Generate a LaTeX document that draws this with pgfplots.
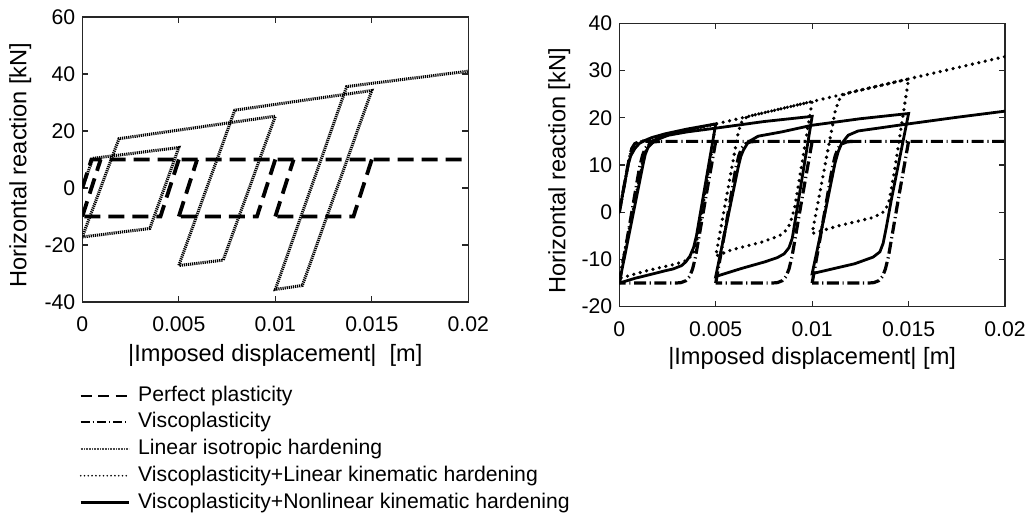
\documentclass[border=0pt]{standalone}
\usepackage{fontspec}
\setmainfont{Liberation Sans}
\usepackage{pgfplots}
\pgfplotsset{compat=1.18}
\pgfplotsset{
  myaxis/.style={
    scale only axis,
    axis line style={black!85, line width=0.6pt},
    every tick/.style={black!85, line width=0.6pt},
    major tick length=3pt,
    tick align=inside,
    xmin=0, xmax=0.02,
    xtick={0,0.005,0.01,0.015,0.02},
    xticklabels={0,0.005,0.01,0.015,0.02},
    scaled x ticks=false, scaled y ticks=false,
    /pgf/number format/assume math mode=true,
    tick label style={font=\fontsize{10.6}{12}\selectfont, black},
    xticklabel style={yshift=-4pt},
    label style={font=\fontsize{11.8}{14}\selectfont},
    xlabel style={at={(axis description cs:0.5,0)}, anchor=base, yshift=-30pt},
  },
  pp/.style={black, line width=1.9pt, dash pattern=on 8pt off 4pt, forget plot},
  iso/.style={black, line width=1.5pt, dash pattern=on 0.6pt off 0.45pt, forget plot},
  vp/.style={black, line width=1.6pt, dash pattern=on 6pt off 1.8pt on 0.6pt off 1.8pt, forget plot},
  lk/.style={black, line width=1.8pt, dash pattern=on 0pt off 3.3pt, line cap=round},
  nk/.style={black, line width=1.4pt},
}
\begin{document}
\begin{tikzpicture}
\useasboundingbox (0,0) rectangle (515pt,-256.5pt);
% ---------------- left axis ----------------
\begin{axis}[myaxis,
  at={(41.15pt,-151pt)}, anchor=south west,
  width=193pt, height=142.5pt,
  ymin=-40, ymax=60,
  ytick={-40,-20,0,20,40,60},
  yticklabels={-40,-20,0,20,40,60},
  xlabel={|Imposed displacement|\ \ [m]},
  ylabel={Horizontal reaction [kN]},
  ylabel style={at={(axis description cs:-0.145,0.48)}, rotate=0, anchor=base},
  legend image code/.code={\draw[#1] (0pt,0pt) -- (24pt,0pt);},
  legend style={at={(-0.008,-0.292)}, anchor=north west, draw=none, fill=none,
    inner sep=0pt, row sep=3.35pt,
    font=\fontsize{10.6}{12}\selectfont,
    nodes={inner sep=0pt, text height=7.8pt, text depth=2.2pt},
    /tikz/every odd column/.append style={column sep=4.2pt}},
  legend cell align=left,
]
% perfect plasticity (loading path split into its distinct pieces)
\addplot[pp] coordinates {(0,0) (0.000475,10) (0.02,10)};
\addplot[pp] coordinates {(0.005,10) (0.00405,-10) (0,-10)};
\addplot[pp] coordinates {(0,-10) (0.00095,10)};
\addplot[pp] coordinates {(0.01,10) (0.00905,-10) (0.005,-10)};
\addplot[pp] coordinates {(0.005,-10) (0.00595,10)};
\addplot[pp] coordinates {(0.015,10) (0.01405,-10) (0.01,-10)};
\addplot[pp] coordinates {(0.01,-10) (0.01095,10)};
% linear isotropic hardening
\addplot[iso] coordinates {
(0,0) (0.00055,10.4) (0.005,14.2) (0.0035,-14.2) (0,-17.2) (0.0019,17.3)
(0.01,25.2) (0.0073,-25.3) (0.005,-27.2) (0.0079,27.3) (0.015,34.2)
(0.0114,-34.2) (0.01,-35.6) (0.0137,35.6) (0.02,41.0)};
\addlegendimage{black, line width=1.1pt, dash pattern=on 5.5pt off 3.2pt}
\addlegendentry{Perfect plasticity}
\addlegendimage{black, line width=1.1pt, dash pattern=on 4.5pt off 1.5pt on 0.6pt off 1.5pt}
\addlegendentry{Viscoplasticity}
\addlegendimage{black!70, line width=0.8pt, dash pattern=on 0.4pt off 0.4pt}
\addlegendentry{Linear isotropic hardening}
\addlegendimage{black, line width=0.9pt, dash pattern=on 0pt off 1.9pt, line cap=round}
\addlegendentry{Viscoplasticity+Linear kinematic hardening}
\addlegendimage{black, line width=1.1pt}
\addlegendentry{Viscoplasticity+Nonlinear kinematic hardening}
\end{axis}
% ---------------- right axis ----------------
\begin{axis}[myaxis,
  at={(309.65pt,-153.35pt)}, anchor=south west,
  width=192.85pt, height=141.7pt,
  ymin=-20, ymax=40,
  ytick={-20,-10,0,10,20,30,40},
  yticklabels={-20,-10,0,10,20,30,40},
  xlabel={|Imposed displacement| [m]},
  xlabel style={yshift=1pt},
  ylabel={Horizontal reaction [kN]},
  ylabel style={at={(axis description cs:-0.14,0.48)}, rotate=0, anchor=base},
]
% viscoplasticity (path split into its distinct pieces)
\addplot[vp] coordinates {(0,0) (0.00045,10) (0.00055,12) (0.00065,13.5) (0.0008,14.5) (0.001,14.9) (0.0013,15) (0.02,15)};
\addplot[vp] coordinates {(0.005,15) (0.0045,3.5) (0.0041,-6) (0.00395,-9.5) (0.0038,-12) (0.00365,-13.6) (0.00345,-14.5) (0.0032,-14.9) (0.0029,-15) (0,-15)};
\addplot[vp] coordinates {(0,-15) (0.0005,-3.5) (0.0009,6) (0.00105,9.5) (0.0012,12) (0.00135,13.6) (0.00155,14.5) (0.0018,14.9) (0.0021,15)};
\addplot[vp] coordinates {(0.01,15) (0.0095,3.5) (0.0091,-6) (0.00895,-9.5) (0.0088,-12) (0.00865,-13.6) (0.00845,-14.5) (0.0082,-14.9) (0.0079,-15) (0.005,-15)};
\addplot[vp] coordinates {(0.005,-15) (0.0055,-3.5) (0.0059,6) (0.00605,9.5) (0.0062,12) (0.00635,13.6) (0.00655,14.5) (0.0068,14.9) (0.0071,15)};
\addplot[vp] coordinates {(0.015,15) (0.0145,3.5) (0.0141,-6) (0.01395,-9.5) (0.0138,-12) (0.01365,-13.6) (0.01345,-14.5) (0.0132,-14.9) (0.0129,-15) (0.01,-15)};
\addplot[vp] coordinates {(0.01,-15) (0.0105,-3.5) (0.0109,6) (0.01105,9.5) (0.0112,12) (0.01135,13.6) (0.01155,14.5) (0.0118,14.9) (0.0121,15)};
% viscoplasticity + linear kinematic hardening
\addplot[lk] coordinates {
(0,0) (0.0005,11) (0.00065,13.5) (0.00085,14.6) (0.0011,15.0) (0.0015,15.35) (0.005,18.7)
(0.00444,4) (0.0041,-4.5) (0.00384,-8.75) (0.0035,-10.2) (0.0029,-11) (0.0015,-12.3) (0,-14)
(0.00124,11) (0.0014,13.2) (0.00155,14.5) (0.00185,15.6) (0.0023,16.1) (0.01,23.45)
(0.0091,1.1) (0.00885,-2.5) (0.0086,-4.0) (0.0083,-5.0) (0.0074,-6.3) (0.0058,-8.0) (0.005,-9.3)
(0.00615,16.5) (0.0063,18.8) (0.0065,19.9) (0.0068,20.4) (0.015,28.2)
(0.0143,9.5) (0.014,2.5) (0.0138,0.5) (0.01359,-0.3) (0.01308,-1.2) (0.01135,-2.9) (0.01,-4.5)
(0.0112,21.5) (0.0114,23.8) (0.01165,24.9) (0.012,25.4) (0.02,32.95)};
% viscoplasticity + nonlinear kinematic hardening
\addplot[nk] coordinates {
(0,0) (0.00047,10.3) (0.0006,12) (0.00081,13.5) (0.00105,14.6) (0.00133,15.2) (0.00168,15.8) (0.00237,16.6) (0.0035,17.6) (0.005,18.7)
(0.004,-5) (0.00385,-7.5) (0.00366,-9.3) (0.00345,-10.5) (0.00323,-11.3) (0.0028,-12) (0.00237,-12.4) (0.0015,-13.3) (0.0008,-14.0) (0,-15)
(0.00124,10.3) (0.00135,12.3) (0.0015,13.8) (0.00185,15.2) (0.00254,16.3) (0.0035,17.0) (0.005,17.8) (0.0075,19.2) (0.01,20.3)
(0.00897,-5.5) (0.0088,-7.5) (0.00855,-8.8) (0.0082,-9.6) (0.00755,-10.5) (0.00634,-11.9) (0.005,-13.6)
(0.00617,9.6) (0.0063,11.8) (0.00643,13.1) (0.00669,14.9) (0.0072,16.1) (0.00841,17.0) (0.00997,18.4) (0.0125,19.8) (0.015,20.9)
(0.0141,2.5) (0.01385,-3.1) (0.01368,-6.6) (0.01351,-8.4) (0.01316,-9.5) (0.01221,-10.9) (0.01,-13)
(0.01066,-0.3) (0.01118,10.3) (0.01135,12.8) (0.01152,14.5) (0.01187,16.3) (0.01238,17.2) (0.0148,18.6) (0.0175,20.1) (0.02,21.4)};
\end{axis}
\end{tikzpicture}
\end{document}
